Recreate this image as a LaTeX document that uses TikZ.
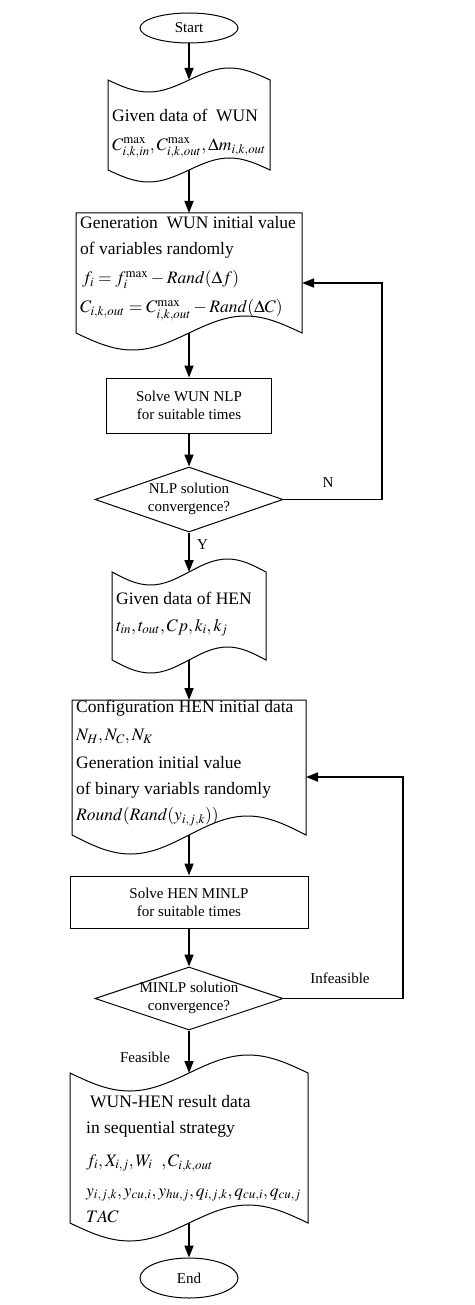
\documentclass[tikz,border=0pt]{standalone}
\usepackage{mathptmx}
\usepackage{fontspec}
\setmainfont{Liberation Serif}
\usetikzlibrary{shapes.geometric,arrows.meta}
\begin{document}
\begin{tikzpicture}[x=1pt,y=-1pt,
  shapeline/.style={draw=black, line width=1pt},
  arr/.style={line width=1.7pt, -{Triangle[length=12pt,width=9pt]}},
  txt/.style={font=\fontsize{17.5}{21}\selectfont, inner sep=0pt, anchor=west},
  lbl/.style={font=\fontsize{15}{18}\selectfont, inner sep=0pt, align=center},
  procbox/.style={shapeline, rectangle, inner sep=0pt, font=\fontsize{15}{18}\selectfont, align=center},
  decision/.style={shapeline, diamond, inner sep=0pt},
  terminal/.style={shapeline, ellipse, inner sep=0pt, font=\fontsize{15}{18}\selectfont}
]
\useasboundingbox (0,0) rectangle (474,1305);

% Start
\node[terminal, minimum width=98pt, minimum height=30pt] (start) at (189,28) {Start};

% Doc 1: Given data of WUN
\draw[shapeline] (108,80) sin (148.5,92) cos (189,80) sin (229.5,68) cos (270,80)
  -- (270,170) sin (229.5,158) cos (189,170) sin (148.5,182) cos (108,170) -- cycle;
\coordinate (d1t) at (189,80);
\coordinate (d1b) at (189,170);
\node[txt] (t1a) at (112,115) {Given data of\ \ WUN};
\node[txt] (t1b) at (112,148) {$C^{\mathrm{max}}_{i,k,in},C^{\mathrm{max}}_{i,k,out},\Delta m_{i,k,out}$};

% Doc 2: Generation WUN initial value
\draw[shapeline] (76,213) -- (302,213) -- (302,333) sin (245.5,316) cos (189,333)
  sin (132.5,350) cos (76,333) -- cycle;
\coordinate (d2t) at (189,213);
\coordinate (d2b) at (189,333);
\coordinate (d2r) at (302,283);
\node[txt] (t2a) at (80,223) {Generation\ \ WUN initial value};
\node[txt] (t2b) at (80,250) {of variables randomly};
\node[txt] (t2c) at (82,280) {$f_i = f_i^{\mathrm{max}} - Rand(\Delta f)$};
\node[txt] (t2d) at (80,310) {$C_{i,k,out} = C^{\mathrm{max}}_{i,k,out} - Rand(\Delta C)$};

% Solve WUN NLP
\node[procbox, minimum width=165pt, minimum height=55pt] (s1) at (189,405.5) {Solve WUN NLP\\for suitable times};

% Decision 1
\node[decision, minimum width=188pt, minimum height=65pt] (c1) at (189,499.5) {};
\node[lbl] (c1t) at (189,499) {NLP solution\\convergence?};

% Doc 3: Given data of HEN
\draw[shapeline] (112,572) sin (150.5,585) cos (189,572) sin (227.5,559) cos (266,572)
  -- (266,660) sin (227.5,647) cos (189,660) sin (150.5,673) cos (112,660) -- cycle;
\coordinate (d3t) at (189,572);
\coordinate (d3b) at (189,660);
\node[txt] (t3a) at (116,598) {Given data of HEN};
\node[txt] (t3b) at (116,628) {$t_{in},t_{out},Cp,k_i,k_j$};

% Doc 4: Configuration HEN initial data
\draw[shapeline] (72,700) -- (306,700) -- (306,835) sin (247.5,816) cos (189,835)
  sin (130.5,854) cos (72,835) -- cycle;
\coordinate (d4t) at (189,700);
\coordinate (d4b) at (189,835);
\coordinate (d4r) at (306,777);
\node[txt] (t4a) at (76,708) {Configuration HEN initial data};
\node[txt] (t4b) at (76,737) {$N_H,N_C,N_K$};
\node[txt] (t4c) at (76,763) {Generation initial value};
\node[txt] (t4d) at (76,790) {of binary variabls randomly};
\node[txt] (t4e) at (76,817) {$Round(Rand(y_{i,j,k}))$};

% Solve HEN MINLP
\node[procbox, minimum width=238pt, minimum height=52pt] (s2) at (189,902) {Solve HEN MINLP\\for suitable times};

% Decision 2
\node[decision, minimum width=188pt, minimum height=63pt] (c2) at (189,998.5) {};
\node[lbl] (c2t) at (189,998) {MINLP solution\\convergence?};

% Doc 5: result data
\draw[shapeline] (70,1073) sin (129.5,1091) cos (189,1073) sin (248.5,1055) cos (308,1073)
  -- (308,1223) sin (248.5,1205) cos (189,1223) sin (129.5,1241) cos (70,1223) -- cycle;
\coordinate (d5t) at (189,1073);
\coordinate (d5b) at (189,1223);
\node[txt] (t5a) at (90,1102) {WUN-HEN result data};
\node[txt] (t5b) at (86,1129) {in sequential strategy};
\node[txt] (t5c) at (86,1163) {$f_i,X_{i,j},W_i\ \ ,C_{i,k,out}$};
\node[txt] (t5d) at (86,1195) {$y_{i,j,k},y_{cu,i},y_{hu,j},q_{i,j,k},q_{cu,i},q_{cu,j}$};
\node[txt] (t5e) at (86,1217) {$TAC$};

% End
\node[terminal, minimum width=98pt, minimum height=40pt] (end) at (189,1278) {End};

% Corner coordinates for loops
\coordinate (k1) at (382,499.5);
\coordinate (k2) at (382,283);
\coordinate (k3) at (403,998.5);
\coordinate (k4) at (403,777);

% Connectors
\draw[arr] (start.south) -- (d1t);
\draw[arr] (d1b) -- (d2t);
\draw[arr] (d2b) -- (s1.north);
\draw[arr] (s1.south) -- (c1.north);
\draw[arr] (c1.south) -- (d3t);
\draw[arr] (c1.east) -- (k1) -- (k2) -- (d2r);
\draw[arr] (d3b) -- (d4t);
\draw[arr] (d4b) -- (s2.north);
\draw[arr] (s2.south) -- (c2.north);
\draw[arr] (c2.south) -- (d5t);
\draw[arr] (c2.east) -- (k3) -- (k4) -- (d4r);
\draw[arr] (d5b) -- (end.north);

% Labels
\node[lbl] (lN) at (328,483) {N};
\node[lbl, anchor=west] (lY) at (197,545) {Y};
\node[lbl] (lInf) at (340,978) {Infeasible};
\node[lbl] (lFeas) at (145,1057) {Feasible};
\end{tikzpicture}
\end{document}
